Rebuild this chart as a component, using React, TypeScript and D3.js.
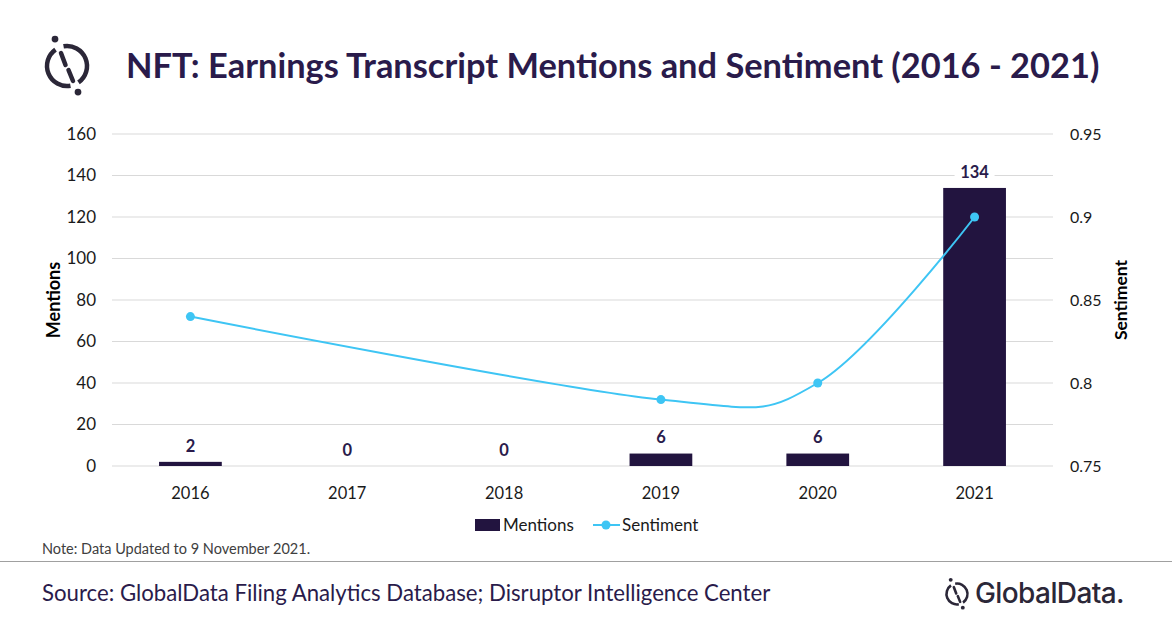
import * as d3 from "d3";

const YEARS = ["2016", "2017", "2018", "2019", "2020", "2021"];
const MENTIONS = [2, 0, 0, 6, 6, 134];
const SENTIMENT: (number | null)[] = [0.84, null, null, 0.79, 0.8, 0.9];
const LEFT_TICKS = [0, 20, 40, 60, 80, 100, 120, 140, 160];
const RIGHT_TICKS = [0.75, 0.8, 0.85, 0.9, 0.95];

const W = 1172;
const H = 628;
const PLOT = { left: 112, right: 1053, top: 134, bottom: 466 };
const BAR = "#22143f";
const LINE = "#3ec5f4";
const INK = "#2a1b4b";
const FONT = "Lato, 'Open Sans', sans-serif";

function Logo({ cx, cy, r, sw }: { cx: number; cy: number; r: number; sw: number }) {
  const arc = d3.arc()({
    innerRadius: r - sw / 2,
    outerRadius: r + sw / 2,
    startAngle: (-10 * Math.PI) / 180,
    endAngle: (145 * Math.PI) / 180,
  } as any);
  const arc2 = d3.arc()({
    innerRadius: r - sw / 2,
    outerRadius: r + sw / 2,
    startAngle: (170 * Math.PI) / 180,
    endAngle: (325 * Math.PI) / 180,
  } as any);
  const k = r / 20;
  return (
    <g transform={`translate(${cx},${cy})`} fill="#2b2738" stroke="none">
      <path d={arc ?? ""} />
      <path d={arc2 ?? ""} />
      <line x1={-6 * k} y1={-13 * k} x2={-1.5 * k} y2={-1 * k} stroke="#2b2738" strokeWidth={sw} strokeLinecap="round" />
      <line x1={1.5 * k} y1={4 * k} x2={6 * k} y2={15 * k} stroke="#2b2738" strokeWidth={sw} strokeLinecap="round" />
      <circle cx={-12 * k} cy={-27 * k} r={sw * 0.75} />
      <circle cx={11 * k} cy={26 * k} r={sw * 0.75} />
    </g>
  );
}

export default function App() {
  const x = d3.scaleBand().domain(YEARS).range([PLOT.left, PLOT.right]).paddingInner(0.6).paddingOuter(0.3);
  const yL = d3.scaleLinear().domain([0, 160]).range([PLOT.bottom, PLOT.top]);
  const yR = d3.scaleLinear().domain([0.75, 0.95]).range([PLOT.bottom, PLOT.top]);
  const cx = (yr: string) => (x(yr) ?? 0) + x.bandwidth() / 2;

  const pts = YEARS.map((yr, i) => ({ yr, v: SENTIMENT[i] })).filter((d) => d.v != null) as { yr: string; v: number }[];
  const linePath = d3
    .line<{ yr: string; v: number }>()
    .x((d) => cx(d.yr))
    .y((d) => yR(d.v))
    .curve(d3.curveCardinal.tension(0))(pts);

  return (
    <svg width={W} height={H} style={{ position: "absolute", left: 0, top: 0, background: "#fff" }} fontFamily={FONT}>
      <rect width={W} height={H} fill="#fff" />

      {/* header */}
      <Logo cx={67} cy={66} r={20} sw={4.5} />
      <text x={126} y={78} fontSize={34.4} fontWeight={700} fill={INK}>
        NFT: Earnings Transcript Mentions and Sentiment (2016 - 2021)
      </text>

      {/* gridlines */}
      {LEFT_TICKS.map((t) => (
        <line key={t} x1={PLOT.left} x2={PLOT.right} y1={yL(t)} y2={yL(t)} stroke="#d9d9d9" strokeWidth={1} />
      ))}

      {/* left axis */}
      {LEFT_TICKS.map((t) => (
        <text key={t} x={96} y={yL(t)} dy="0.35em" textAnchor="end" fontSize={17} fill="#1a1a1a">
          {t}
        </text>
      ))}
      <text transform={`translate(60,${(PLOT.top + PLOT.bottom) / 2}) rotate(-90)`} textAnchor="middle" fontSize={18} fontWeight={700} fill="#000">
        Mentions
      </text>

      {/* right axis */}
      {RIGHT_TICKS.map((t) => (
        <text key={t} x={1070} y={yR(t)} dy="0.35em" fontSize={16} fill="#1a1a1a">
          {d3.format("~g")(t)}
        </text>
      ))}
      <text transform={`translate(1127,${(PLOT.top + PLOT.bottom) / 2}) rotate(-90)`} textAnchor="middle" fontSize={17.5} fontWeight={700} fill="#000">
        Sentiment
      </text>

      {/* x labels */}
      {YEARS.map((yr) => (
        <text key={yr} x={cx(yr)} y={493} dy="0.35em" textAnchor="middle" fontSize={16.5} fill="#1a1a1a">
          {yr}
        </text>
      ))}

      {/* bars */}
      {YEARS.map((yr, i) => (
        <rect key={yr} x={x(yr)} y={yL(MENTIONS[i])} width={x.bandwidth()} height={PLOT.bottom - yL(MENTIONS[i])} fill={BAR} />
      ))}

      {/* bar labels */}
      {YEARS.map((yr, i) => {
        const ty = yL(MENTIONS[i]) - 16;
        const w = String(MENTIONS[i]).length * 10 + 10;
        return (
          <g key={yr}>
            <rect x={cx(yr) - w / 2} y={ty - 11} width={w} height={22} fill="#fff" />
            <text x={cx(yr)} y={ty} dy="0.35em" textAnchor="middle" fontSize={16.5} fontWeight={700} fill={INK}>
              {MENTIONS[i]}
            </text>
          </g>
        );
      })}

      {/* sentiment line */}
      <path d={linePath ?? ""} fill="none" stroke={LINE} strokeWidth={2} />
      {pts.map((d) => (
        <circle key={d.yr} cx={cx(d.yr)} cy={yR(d.v)} r={4.5} fill={LINE} />
      ))}

      {/* legend */}
      <rect x={475} y={519} width={25} height={12} fill={BAR} />
      <text x={503} y={525} dy="0.35em" fontSize={17} fill="#1a1a1a">
        Mentions
      </text>
      <line x1={593} x2={620} y1={525} y2={525} stroke={LINE} strokeWidth={2} />
      <circle cx={606} cy={525} r={4.5} fill={LINE} />
      <text x={622} y={525} dy="0.35em" fontSize={17} fill="#1a1a1a">
        Sentiment
      </text>

      {/* footer */}
      <text x={42} y={554} fontSize={14.5} fill="#404040">
        Note: Data Updated to 9 November 2021.
      </text>
      <line x1={0} x2={W} y1={561.5} y2={561.5} stroke="#a0a0a0" strokeWidth={1.2} />
      <text x={42} y={601} fontSize={22.2} fill={INK}>
        Source: GlobalData Filing Analytics Database; Disruptor Intelligence Center
      </text>
      <Logo cx={957} cy={594} r={10.5} sw={2.6} />
      <text x={975} y={603} fontSize={28} fontWeight={500} fill="#2b2738" fontFamily="Inter, sans-serif" letterSpacing={-0.6}>
        GlobalData.
      </text>
    </svg>
  );
}
